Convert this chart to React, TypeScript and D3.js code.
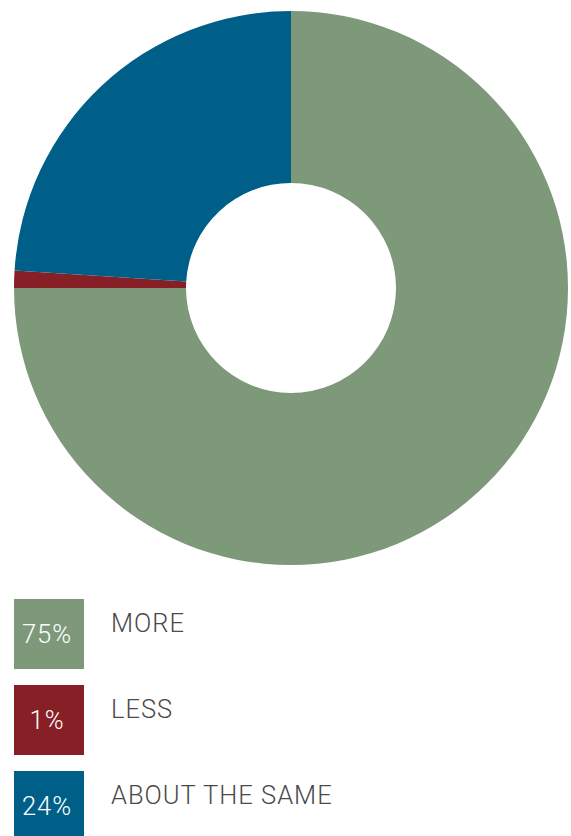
import React from "react";
import * as d3 from "d3";

const categories = ["MORE", "LESS", "ABOUT THE SAME"];
const values = [75, 1, 24];
const valueLabels = ["75%", "1%", "24%"];
const colors = ["#7E997A", "#861F26", "#005F88"];

export default function App() {
  const width = 571;
  const height = 836;
  const cx = 291;
  const cy = 288;
  const outerR = 277;
  const innerR = 105;

  const pie = d3.pie<number>().sort(null).value((d) => d);
  const arcs = pie(values);
  const arc = d3.arc<d3.PieArcDatum<number>>().innerRadius(innerR).outerRadius(outerR);

  const legendX = 14;
  const legendY0 = 599;
  const legendStep = 86;
  const box = 70;

  return (
    <svg
      width={width}
      height={height}
      style={{ position: "absolute", left: 0, top: 0, display: "block", background: "#fff" }}
    >
      <g transform={`translate(${cx},${cy})`}>
        {arcs.map((a, i) => (
          <path key={i} d={arc(a) || ""} fill={colors[i]} stroke="none" />
        ))}
      </g>
      {categories.map((c, i) => {
        const y = legendY0 + i * legendStep;
        return (
          <g key={c}>
            <rect x={legendX} y={y} width={box} height={box} fill={colors[i]} />
            <text
              x={legendX + box / 2 - 2}
              y={y + 44}
              textAnchor="middle"
              fill="#fff"
              fontFamily="Roboto, 'Liberation Sans', sans-serif"
              fontWeight={300}
              fontSize={25.5}
              letterSpacing={1}
            >
              {valueLabels[i]}
            </text>
            <text
              x={111}
              y={y + 33}
              fill="#4a4a4a"
              fontFamily="Roboto, 'Liberation Sans', sans-serif"
              fontWeight={300}
              fontSize={25.5}
              letterSpacing={1}
            >
              {c}
            </text>
          </g>
        );
      })}
    </svg>
  );
}
